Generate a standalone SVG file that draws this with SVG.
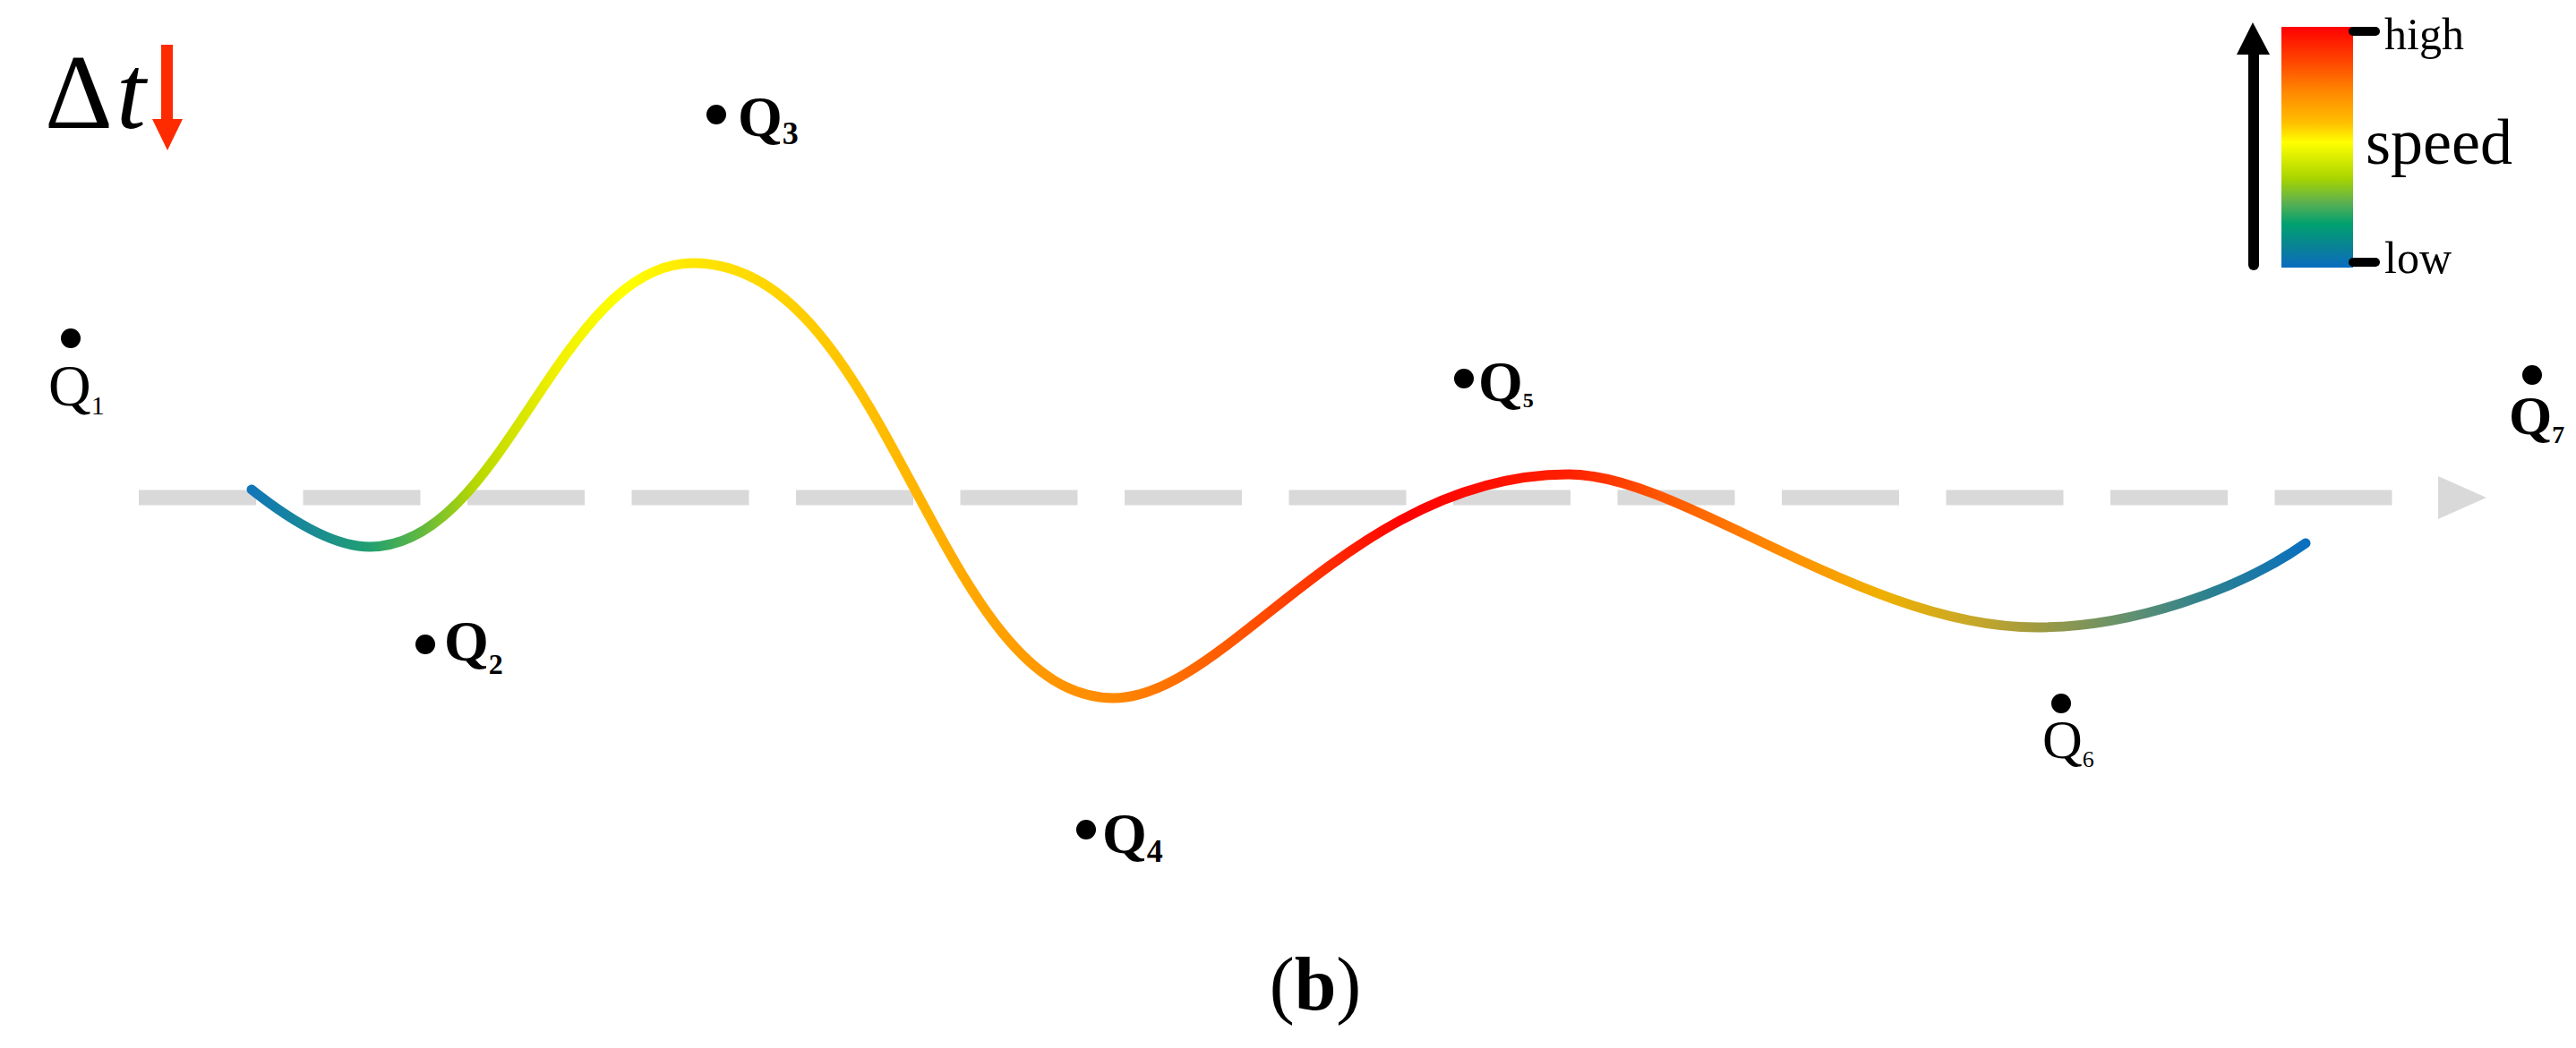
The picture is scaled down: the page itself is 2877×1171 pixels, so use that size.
<svg xmlns="http://www.w3.org/2000/svg" width="2877" height="1171" viewBox="0 0 2877 1171">
<style>
  .lbl { font-family: "Liberation Serif", "Times New Roman", serif; fill: #000; }
  .b { font-weight: bold; }
  .dot { fill: #000; }
</style>
<defs>
  <linearGradient id="curveGrad" gradientUnits="userSpaceOnUse" x1="281" y1="0" x2="2575" y2="0">
    <stop offset="0" stop-color="#1176b8"/>
    <stop offset="0.058" stop-color="#22a070"/>
    <stop offset="0.082" stop-color="#60b840"/>
    <stop offset="0.109" stop-color="#b8d800"/>
    <stop offset="0.148" stop-color="#f0f000"/>
    <stop offset="0.183" stop-color="#ffff00"/>
    <stop offset="0.215" stop-color="#ffe600"/>
    <stop offset="0.316" stop-color="#ffb800"/>
    <stop offset="0.42" stop-color="#ff8800"/>
    <stop offset="0.514" stop-color="#ff3800"/>
    <stop offset="0.561" stop-color="#ff0000"/>
    <stop offset="0.641" stop-color="#ff2000"/>
    <stop offset="0.685" stop-color="#ff5500"/>
    <stop offset="0.749" stop-color="#ff9000"/>
    <stop offset="0.793" stop-color="#f0b000"/>
    <stop offset="0.837" stop-color="#c8a828"/>
    <stop offset="0.869" stop-color="#a09a40"/>
    <stop offset="0.915" stop-color="#609070"/>
    <stop offset="0.954" stop-color="#2a8090"/>
    <stop offset="1" stop-color="#0a70c0"/>
  </linearGradient>
  <linearGradient id="barGrad" x1="0" y1="0" x2="0" y2="1">
    <stop offset="0" stop-color="#ff0000"/>
    <stop offset="0.14" stop-color="#ff4400"/>
    <stop offset="0.27" stop-color="#ff8800"/>
    <stop offset="0.4" stop-color="#ffc000"/>
    <stop offset="0.48" stop-color="#ffff00"/>
    <stop offset="0.63" stop-color="#a8d400"/>
    <stop offset="0.73" stop-color="#5cb050"/>
    <stop offset="0.82" stop-color="#00a070"/>
    <stop offset="0.92" stop-color="#0a8098"/>
    <stop offset="1" stop-color="#0a6cc0"/>
  </linearGradient>
</defs>
<rect width="2877" height="1171" fill="#ffffff"/>

<g id="delta-t">
  <text class="lbl" x="50" y="143" font-size="118">Δ<tspan font-style="italic" dx="4">t</tspan></text>
  <rect x="180" y="50" width="13" height="86" fill="#ff2b00"/>
  <polygon points="170,133 204,133 187,168" fill="#ff2b00"/>
</g>

<g id="legend">
  <line x1="2517" y1="55" x2="2517" y2="296" stroke="#000" stroke-width="12" stroke-linecap="round"/>
  <polygon points="2498,61 2535,61 2516,25" fill="#000"/>
  <rect x="2548" y="30" width="80" height="269" fill="url(#barGrad)"/>
  <line x1="2628" y1="35" x2="2653" y2="35" stroke="#000" stroke-width="10" stroke-linecap="round"/>
  <line x1="2628" y1="293" x2="2653" y2="293" stroke="#000" stroke-width="10" stroke-linecap="round"/>
  <text class="lbl" x="2663" y="55" font-size="50">high</text>
  <text class="lbl" x="2642" y="183" font-size="72">speed</text>
  <text class="lbl" x="2663" y="305" font-size="50">low</text>
</g>

<g id="connectors">
  <line x1="155" y1="556" x2="2672" y2="556" stroke="#d9d9d9" stroke-width="17" stroke-dasharray="131 52.5"/>
  <polygon points="2723,532 2777,556 2723,580" fill="#d9d9d9"/>
  <path d="M281,547 C320,578 370,611 413,611 C563,611 624,294 774,294 C994,294 1044,780 1244,780 C1370,780 1510,530 1752,530 C1880,530 2080,701 2275,701 C2380,701 2500,660 2575,607" fill="none" stroke="url(#curveGrad)" stroke-width="11" stroke-linecap="round"/>
</g>

<g id="Q1">
  <circle class="dot" cx="79" cy="378" r="11"/>
  <text class="lbl" x="54" y="453" font-size="66">Q<tspan font-size="30" dy="10">1</tspan></text>
</g>
<g id="Q2">
  <circle class="dot" cx="475" cy="720" r="11"/>
  <text class="lbl b" x="496" y="738" font-size="64">Q<tspan font-size="32" dy="15">2</tspan></text>
</g>
<g id="Q3">
  <circle class="dot" cx="800" cy="128" r="11"/>
  <text class="lbl b" x="824" y="152" font-size="64">Q<tspan font-size="36" dy="9">3</tspan></text>
</g>
<g id="Q4">
  <circle class="dot" cx="1213" cy="927" r="11"/>
  <text class="lbl b" x="1231" y="953" font-size="64">Q<tspan font-size="36" dy="10">4</tspan></text>
</g>
<g id="Q5">
  <circle class="dot" cx="1635" cy="423" r="11"/>
  <text class="lbl b" x="1651" y="448" font-size="64">Q<tspan font-size="24" dy="7">5</tspan></text>
</g>
<g id="Q6">
  <circle class="dot" cx="2302" cy="786" r="11"/>
  <text class="lbl" x="2281" y="847" font-size="62">Q<tspan font-size="26" dy="10">6</tspan></text>
</g>
<g id="Q7">
  <circle class="dot" cx="2828" cy="419" r="11"/>
  <text class="lbl b" x="2802" y="485" font-size="62">Q<tspan font-size="28" dy="10">7</tspan></text>
</g>

<g id="caption">
  <text class="lbl" x="1469" y="1128" font-size="84" text-anchor="middle">(<tspan class="b">b</tspan>)</text>
</g>
</svg>
